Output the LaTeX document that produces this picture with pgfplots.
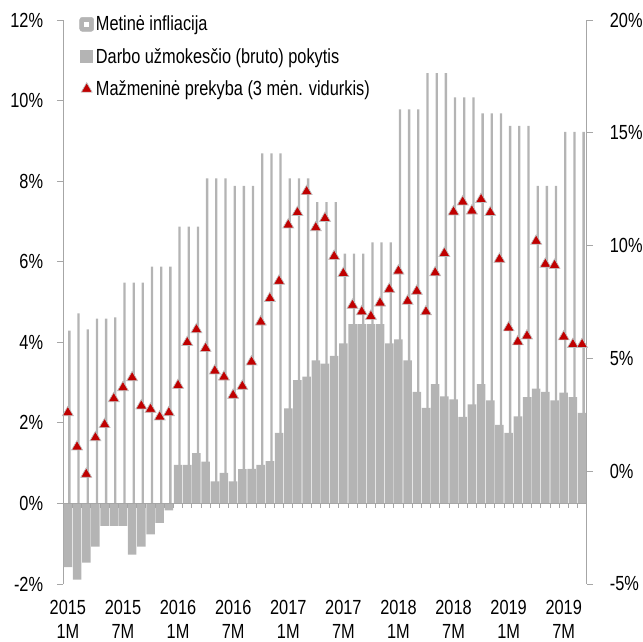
\documentclass[border=0pt]{standalone}
\usepackage{fontspec}
\setmainfont{Liberation Sans}[FakeStretch=0.8]
\usepackage{pgfplots}
\usepackage{pgfplotstable}
\pgfplotsset{compat=1.18}

\definecolor{BarGray}{HTML}{B4B4B4}
\definecolor{LineGray}{HTML}{B4B4B4}
\definecolor{AxisGray}{HTML}{A6A6A6}
\definecolor{TriRed}{HTML}{C00000}
\definecolor{TriEdge}{HTML}{BFBFBF}

% i = month index (0 = 2015 1M), infl = annual inflation (left axis),
% wage = gross wage change (left axis), retail = retail trade 3M avg (right axis)
\pgfplotstableread{
i infl wage retail
0 -1.58 4.29 2.60
1 -1.89 4.72 1.08
2 -1.47 4.32 -0.13
3 -1.07 4.59 1.49
4 -0.56 4.59 2.07
5 -0.56 4.62 3.22
6 -0.56 5.48 3.71
7 -1.27 5.48 4.15
8 -1.07 5.48 2.90
9 -0.77 5.88 2.75
10 -0.48 5.88 2.41
11 -0.17 5.88 2.60
12 0.96 6.87 3.81
13 0.96 6.87 5.71
14 1.25 6.87 6.28
15 1.04 8.07 5.45
16 0.55 8.07 4.45
17 0.76 8.07 4.18
18 0.55 7.88 3.37
19 0.85 7.88 3.77
20 0.86 7.88 4.85
21 0.96 8.69 6.62
22 1.05 8.69 7.66
23 1.75 8.69 8.43
24 2.36 8.07 10.92
25 3.06 8.07 11.47
26 3.15 8.07 12.40
27 3.55 7.48 10.80
28 3.47 7.48 11.21
29 3.66 7.48 9.53
30 3.97 6.20 8.77
31 4.45 6.20 7.36
32 4.45 6.20 7.07
33 4.45 6.48 6.87
34 4.45 6.48 7.46
35 3.97 6.48 8.07
36 4.07 9.78 8.88
37 3.55 9.78 7.54
38 2.77 9.78 7.98
39 2.37 10.68 7.07
40 2.96 10.68 8.80
41 2.66 10.68 9.66
42 2.58 10.08 11.50
43 2.15 10.08 11.94
44 2.46 10.08 11.54
45 2.96 9.68 12.05
46 2.56 9.68 11.47
47 1.95 9.68 9.40
48 1.75 9.37 6.36
49 2.16 9.37 5.74
50 2.64 9.37 6.00
51 2.85 7.88 10.20
52 2.77 7.88 9.18
53 2.56 7.88 9.13
54 2.75 9.22 5.96
55 2.64 9.22 5.62
56 2.25 9.22 5.62
}\data

\pgfplotsset{
  common/.style={
    scale only axis, width=523.4bp, height=564bp,
    xmin=-0.5, xmax=56.5,
    tick align=outside, major tick length=6.5bp,
    y axis line style={draw=AxisGray, line width=0.9bp},
    y tick style={draw=AxisGray, line width=0.9bp},
    tick label style={font=\fontsize{20.5}{23.5}\selectfont},
    /pgf/number format/assume math mode=true,
    clip=false,
  }
}

\begin{document}
\begin{tikzpicture}
\useasboundingbox (-63.3bp,-58bp) rectangle (579.7bp,584bp);
\begin{axis}[common,
  ymin=-2, ymax=12,
  axis x line*=bottom, axis y line*=left,
  x axis line style={draw=none},
  x tick style={draw=none},
  ytick={-2,0,...,12},
  yticklabel={\pgfmathprintnumber{\tick}\%},
  yticklabel style={anchor=east, inner sep=0pt, xshift=-13.5bp},
  xtick={0,6,...,54},
  xticklabels={{2015\\1M},{2015\\7M},{2016\\1M},{2016\\7M},{2017\\1M},{2017\\7M},{2018\\1M},{2018\\7M},{2019\\1M},{2019\\7M}},
  xticklabel style={align=center, anchor=north, inner sep=0pt, yshift=-10bp},
]
\addplot[ybar, bar width=2.3bp, bar shift=1.5bp, fill=LineGray, draw=none] table[x=i, y=wage] {\data};
\addplot[ybar, bar width=8.5bp, bar shift=0bp, fill=BarGray, draw=none] table[x=i, y=infl] {\data};
\draw[AxisGray, line width=0.9bp] (axis cs:-0.5,0) -- (axis cs:56.5,0);
\pgfplotsinvokeforeach{-0.5,0.5,...,56.5}{
  \draw[AxisGray, line width=0.9bp] (axis cs:#1,0) -- ([yshift=-4.3bp]axis cs:#1,0);
}
\end{axis}

\begin{axis}[common,
  ymin=-5, ymax=20,
  axis y line*=right, axis x line=none,
  ytick={-5,0,...,20},
  yticklabel={\pgfmathprintnumber{\tick}\%},
  yticklabel style={anchor=west, inner sep=0pt, xshift=16.5bp},
  legend style={draw=none, fill=none, at={(0,1)}, anchor=north west,
    xshift=16bp, yshift=6bp,
    font=\fontsize{20.5}{24}\selectfont, row sep=12bp, inner sep=0pt},
  legend cell align=left,
]
\addlegendimage{legend image code/.code={
  \fill[BarGray, rounded corners=2.5bp] (1.5bp,-7bp) rectangle (15.5bp,7bp);
  \fill[white] (6.5bp,-2bp) rectangle (10.5bp,2bp);}}
\addlegendentry{Metinė infliacija}
\addlegendimage{legend image code/.code={
  \fill[BarGray] (2.5bp,-6bp) rectangle (14.5bp,6bp);}}
\addlegendentry{Darbo užmokesčio (bruto) pokytis}
\addplot[only marks, mark=triangle*, mark size=6.3bp,
  mark options={fill=TriRed, draw=TriEdge, line width=0.7bp}] table[x=i, y=retail] {\data};
\addlegendentry{Mažmeninė prekyba (3 mėn. vidurkis)}
\end{axis}
\end{tikzpicture}
\end{document}
